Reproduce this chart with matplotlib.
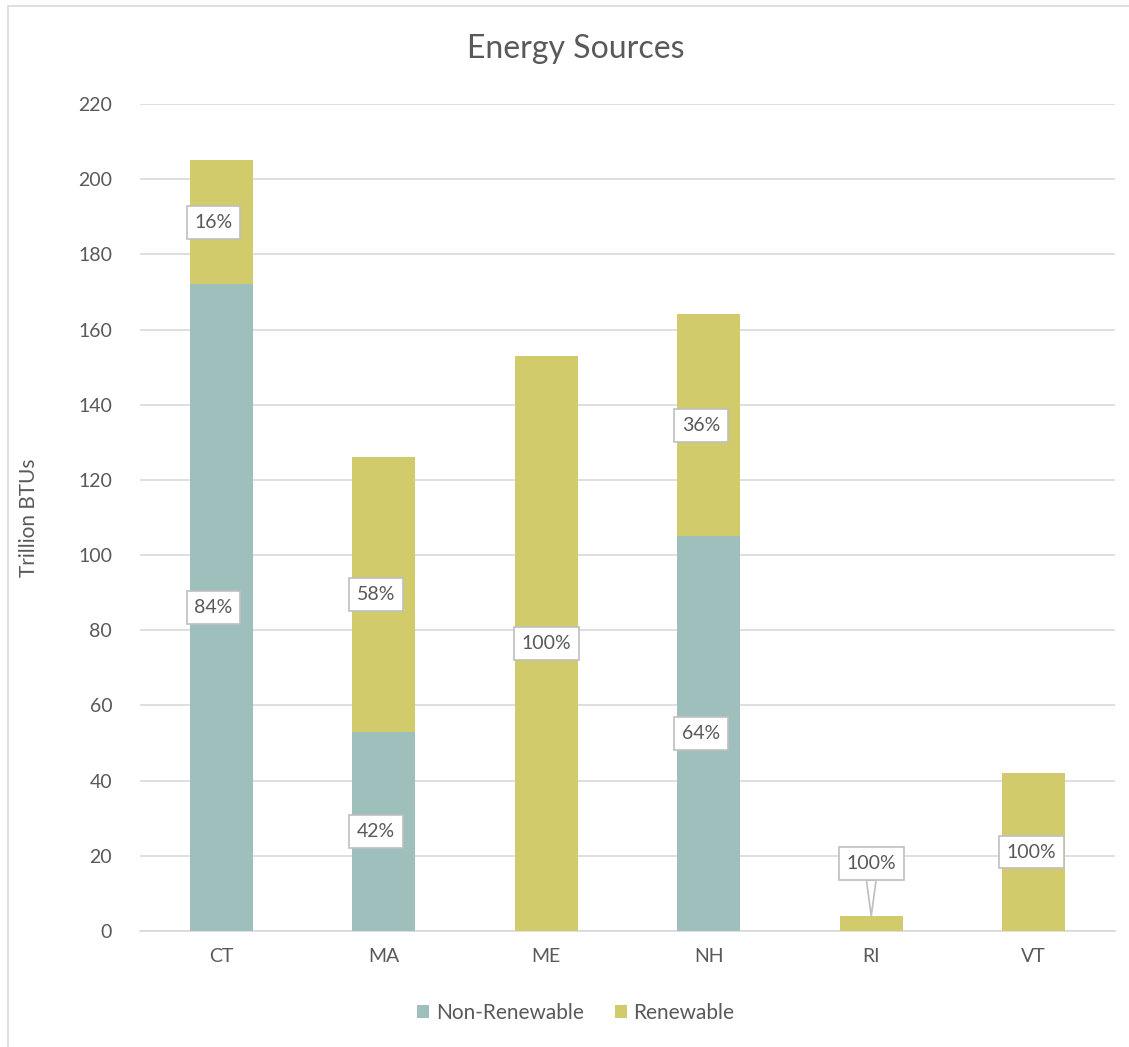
import matplotlib.pyplot as plt
import numpy as np
from matplotlib.patches import Rectangle

states = ['CT', 'MA', 'ME', 'NH', 'RI', 'VT']
non_renewable = [172, 53, 0, 105, 0, 0]
renewable = [33, 73, 153, 59, 4, 42]
yticks = [0, 20, 40, 60, 80, 100, 120, 140, 160, 180, 200, 220]

c_non = '#9FBFBC'
c_ren = '#D2CB6B'
txt = '#595959'

plt.rcParams['font.family'] = ['Lato', 'DejaVu Sans']

fig = plt.figure(figsize=(11.29, 10.47), dpi=100)
ax = fig.add_axes([0.124, 0.1108, 0.8636, 0.7899])

# outer chart border
fig.patches.append(Rectangle((0.007, -0.01), 1.1, 1.004, transform=fig.transFigure,
                             fill=False, edgecolor='#D9D9D9', lw=1.2))

x = np.arange(len(states))
w = 0.39
ax.bar(x, non_renewable, w, color=c_non, label='Non-Renewable', zorder=3)
ax.bar(x, renewable, w, bottom=non_renewable, color=c_ren, label='Renewable', zorder=3)

ax.set_xlim(-0.5, len(states) - 0.5)
ax.set_ylim(0, 220)
ax.set_yticks(yticks)
ax.set_xticks(x)
ax.set_xticklabels(states)
ax.yaxis.grid(True, color='#D9D9D9', lw=1.2, zorder=0)
for s in ['top', 'right', 'left']:
    ax.spines[s].set_visible(False)
ax.spines['bottom'].set_color('#D9D9D9')
ax.spines['bottom'].set_linewidth(1.2)
ax.tick_params(axis='both', length=0, labelsize=14, colors=txt)
ax.tick_params(axis='y', pad=20)
ax.tick_params(axis='x', pad=12)
ax.set_ylabel('Trillion BTUs', fontsize=15, color=txt, labelpad=28)
fig.text(0.51, 0.953, 'Energy Sources', ha='center', va='center', fontsize=23, color=txt)

box = dict(boxstyle='square,pad=0.4', fc='white', ec='#BFBFBF', lw=1.2)


def label(xi, yv, text, ha_left=True):
    if ha_left:
        ax.text(xi - w / 2 + 0.03, yv, text, ha='left', va='center', fontsize=14,
                color=txt, bbox=box, zorder=5)
    else:
        ax.text(xi, yv, text, ha='center', va='center', fontsize=14,
                color=txt, bbox=box, zorder=5)


for i in range(len(states)):
    tot = non_renewable[i] + renewable[i]
    if non_renewable[i] > 0:
        label(x[i], non_renewable[i] / 2, f'{round(100 * non_renewable[i] / tot)}%')
        label(x[i], non_renewable[i] + renewable[i] / 2,
              f'{round(100 * renewable[i] / tot)}%')
    elif tot < 10:
        ax.annotate(f'{round(100 * renewable[i] / tot)}%', xy=(x[i], tot),
                    xytext=(x[i], tot + 14), ha='center', va='center', fontsize=14,
                    color=txt, bbox=box, zorder=5,
                    arrowprops=dict(arrowstyle='wedge,tail_width=0.5', fc='white',
                                    ec='#BFBFBF', lw=1.2, shrinkA=0, shrinkB=0))
    elif states[i] == 'VT':
        label(x[i], tot / 2, '100%')
    else:
        label(x[i], tot / 2, '100%', ha_left=False)

leg = fig.legend(loc='lower center', bbox_to_anchor=(0.51, 0.005), ncol=2, frameon=False,
                 fontsize=15, handlelength=0.6, handleheight=0.6, handletextpad=0.3,
                 columnspacing=1.5)
for t in leg.get_texts():
    t.set_color(txt)

fig.savefig('out.png', dpi=100)
